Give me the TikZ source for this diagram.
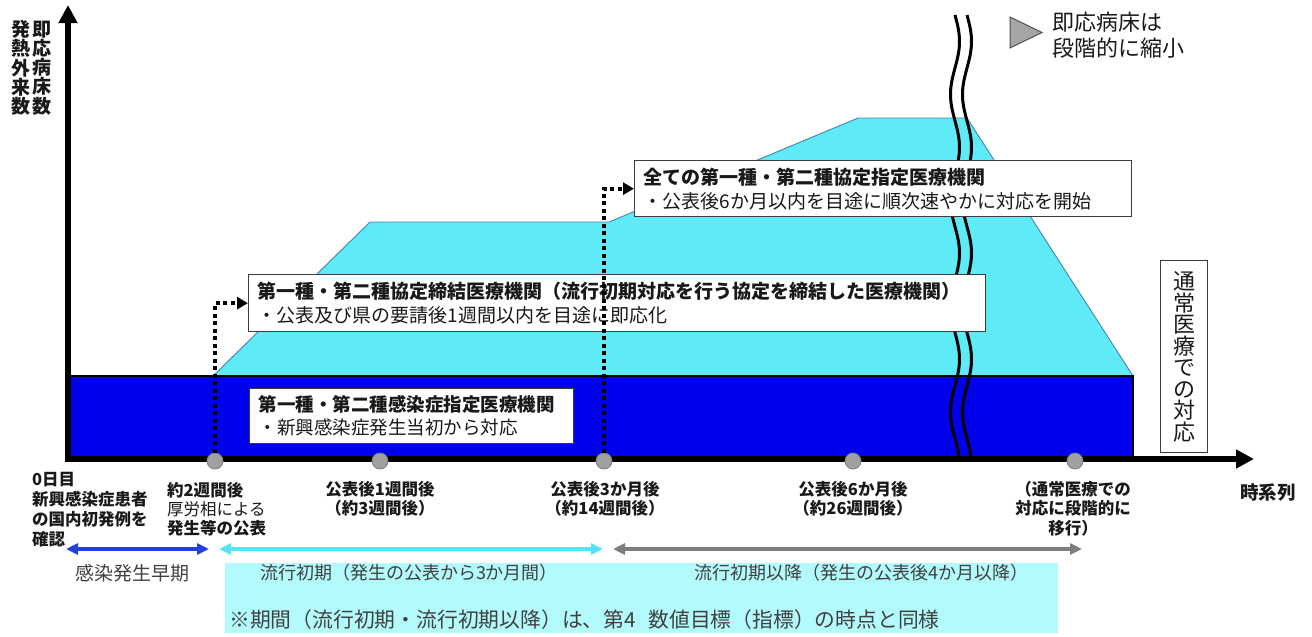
\documentclass[tikz,border=0pt]{standalone}
\usepackage{fontspec}
\setmainfont{Noto Sans CJK JP}
\usetikzlibrary{arrows.meta}
\definecolor{dblue}{RGB}{0,0,236}
\definecolor{lcyan}{RGB}{94,234,246}
\definecolor{edgeblue}{RGB}{70,130,180}
\definecolor{pale}{RGB}{178,250,252}
\definecolor{txt}{RGB}{25,25,25}
\definecolor{soft}{RGB}{64,64,64}
\definecolor{boxedge}{RGB}{60,60,60}
\definecolor{dotgray}{RGB}{160,160,160}
\definecolor{dotedge}{RGB}{125,125,125}
\definecolor{pblue}{RGB}{35,65,225}
\definecolor{pcyan}{RGB}{85,228,245}
\definecolor{pgray}{RGB}{125,125,125}
\definecolor{trigray}{RGB}{166,166,166}
\definecolor{triedge}{RGB}{80,80,80}
\newcommand{\fsz}[2]{\fontsize{#1}{#2}\selectfont}
\newcommand{\tightlines}{\lineskiplimit=-8pt\relax}
\begin{document}
\begin{tikzpicture}[x=1pt,y=-1pt,
  infobox/.style={draw=boxedge, line width=1.3pt, fill=white, anchor=north west, align=left, inner xsep=9pt, inner ysep=0pt, text=txt},
  axisline/.style={line width=6pt, -{Triangle[length=18pt,width=18pt]}},
  waveline/.style={line width=3pt, black},
  dotconn/.style={line width=4pt, dash pattern=on 4pt off 3.5pt, -{Triangle[length=11pt,width=12pt]}},
  tickdot/.style={circle, fill=dotgray, draw=dotedge, line width=0.8pt, minimum size=16pt, inner sep=0pt},
  tlabel/.style={anchor=north, align=center, inner sep=0pt, text=txt, font=\fsz{16.5}{19.5}\bfseries},
  perarrow/.style={line width=4pt, {Triangle[length=12pt,width=11pt]}-{Triangle[length=12pt,width=11pt]}},
  ptext/.style={text=soft, inner sep=0pt, font=\fsz{18}{22}},
  vlabel/.style={align=center, inner sep=0pt, text=txt, font=\fsz{19}{19.2}\bfseries\tightlines},
]
\useasboundingbox (0,0) rectangle (1312,637);

% period background
\fill[pale] (225,563) rectangle (1058,633);

% cyan staircase
\filldraw[fill=lcyan, draw=edgeblue, line width=0.9pt] (213,376) -- (370,222) -- (609,222) -- (858,118) -- (967,118) -- (1133,376) -- cycle;

% blue base block
\filldraw[fill=dblue, draw=black, line width=2.5pt] (68,376) rectangle (1133,457);

% axes
\coordinate (origin) at (68,462);
\coordinate (ytop) at (68,5);
\coordinate (xstart) at (65,459);
\coordinate (xend) at (1254,459);
\draw[axisline] (origin) -- (ytop);
\draw[axisline] (xstart) -- (xend);

% break lines
\draw[waveline] plot[smooth, samples=90, domain=15:456] ({955+4.5*sin((\x-15)*3.4)}, \x);
\draw[waveline] plot[smooth, samples=90, domain=15:456] ({967+4.5*sin((\x-15)*3.4)}, \x);

% info boxes
\node[infobox, minimum width=324pt, minimum height=55pt, text width=306pt, font=\fsz{18.5}{23}] (box1) at (249,388)
  {{\bfseries 第一種・第二種感染症指定医療機関}\\・新興感染症発生当初から対応};
\node[infobox, minimum width=737pt, minimum height=57pt, text width=719pt, font=\fsz{19}{24}] (box2) at (248,274)
  {{\bfseries 第一種・第二種協定締結医療機関（流行初期対応を行う協定を締結した医療機関）}\\・公表及び県の要請後1週間以内を目途に即応化};
\node[infobox, minimum width=497pt, minimum height=56pt, text width=479pt, font=\fsz{19}{24}] (box3) at (634,160)
  {{\bfseries 全ての第一種・第二種協定指定医療機関}\\・公表後6か月以内を目途に順次速やかに対応を開始};
\node[draw=boxedge, line width=1.3pt, fill=white, anchor=north west, minimum width=47pt, minimum height=192pt, inner sep=0pt, align=center, text width=47pt, text=txt, font=\fsz{22}{21.5}\tightlines] (box4) at (1160,260)
  {通\\常\\医\\療\\で\\の\\対\\応};

% timeline points
\node[tickdot] (c1) at (215,461) {};
\node[tickdot] (c2) at (380,461) {};
\node[tickdot] (c3) at (604,461) {};
\node[tickdot] (c4) at (853,461) {};
\node[tickdot] (c5) at (1075,461) {};

% dotted connectors
\draw[dotconn] (c1.north) |- (box2.west);
\draw[dotconn] (c3.north) |- (box3.west);

% y axis labels
\node[vlabel] (ylab1) at (21,68) {発\\熱\\外\\来\\数};
\node[vlabel] (ylab2) at (42,68) {即\\応\\病\\床\\数};

% legend
\filldraw[fill=trigray, draw=triedge, line width=1pt] (1010,17) -- (1042,32.5) -- (1010,48) -- cycle;
\node[anchor=west, align=left, inner sep=0pt, text=txt, font=\fsz{22}{26}] (legtext) at (1052,35) {即応病床は\\段階的に縮小};

% timeline labels
\node[anchor=north west, align=left, inner sep=0pt, text=txt, font=\fsz{16.5}{20}\bfseries] (t1) at (32,472.5) {0日目\\新興感染症患者\\の国内初発例を\\確認};
\node[anchor=north west, align=left, inner sep=0pt, text=txt, font=\fsz{16.5}{19}\bfseries] (t2) at (167,482) {約2週間後\\{\mdseries 厚労相による}\\発生等の公表};
\node[tlabel] (t3) at (380,481) {公表後1週間後\\（約3週間後）};
\node[tlabel] (t4) at (605,481) {公表後3か月後\\（約14週間後）};
\node[tlabel] (t5) at (853,481) {公表後6か月後\\（約26週間後）};
\node[tlabel] (t6) at (1073,481) {（通常医療での\\対応に段階的に\\移行）};
\node[inner sep=0pt, text=txt, font=\fsz{18.5}{22}\bfseries] (t7) at (1268,492) {時系列};

% period arrows
\coordinate (pa1) at (66,549);
\coordinate (pa2) at (209,549);
\coordinate (pb1) at (219,549);
\coordinate (pb2) at (603,549);
\coordinate (pc1) at (613,549);
\coordinate (pc2) at (1082,549);
\draw[perarrow, pblue] (pa1) -- (pa2);
\draw[perarrow, pcyan] (pb1) -- (pb2);
\draw[perarrow, pgray] (pc1) -- (pc2);

\node[ptext, font=\fsz{19}{22}] (ptA) at (132,573) {感染発生早期};
\node[ptext] (ptB) at (409,573) {流行初期（発生の公表から3か月間）};
\node[ptext] (ptC) at (861,573) {流行初期以降（発生の公表後4か月以降）};
\node[ptext, anchor=west, font=\fsz{20.8}{24}] (note) at (229,620) {※期間（流行初期・流行初期以降）は、第4\hspace{0.6em}数値目標（指標）の時点と同様};
\end{tikzpicture}
\end{document}
